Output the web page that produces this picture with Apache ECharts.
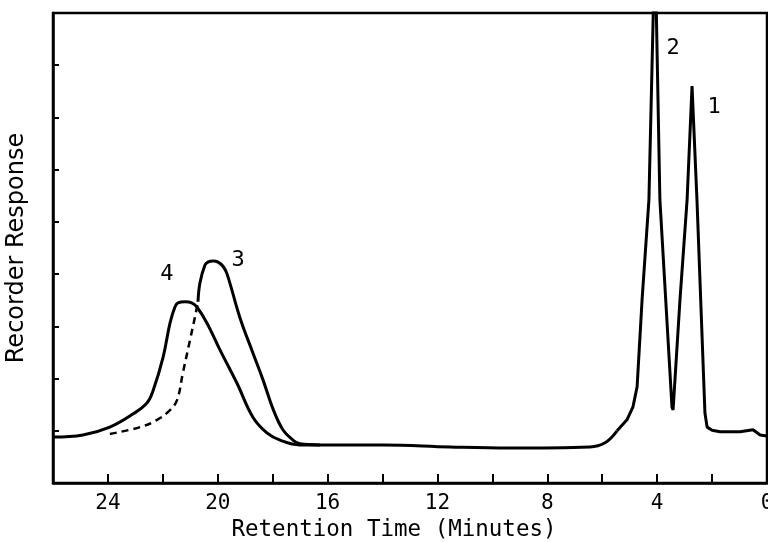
<!DOCTYPE html>
<html>
<head>
<meta charset="utf-8">
<script src="https://cdn.jsdelivr.net/npm/echarts@6/dist/echarts.min.js"></script>
<style>
  html, body { margin: 0; padding: 0; background: #fff; }
  #chart { width: 768px; height: 542px; }
</style>
</head>
<body>
<div id="chart"></div>
<script>
// left part of the trace: peak 4 and the long baseline
var baseT = [26.0, 24.91, 23.93, 23.09, 22.58, 22.36, 21.99, 21.74, 21.56, 21.45, 21.19, 20.95, 20.76, 20.39, 19.92, 19.30, 18.72, 18.21, 17.73, 17.01, 15.19, 13.98, 11.54, 9.36, 6.45, 5.90, 5.46];
var baseV = [-0.12, -0.08, 0.07, 0.32, 0.53, 0.76, 1.41, 2.06, 2.37, 2.45, 2.47, 2.45, 2.37, 2.06, 1.55, 0.91, 0.26, -0.04, -0.18, -0.27, -0.27, -0.27, -0.31, -0.33, -0.31, -0.23, 0.00];

// right part of the trace: peaks 2 and 1
var peaksT = [5.46, 5.10, 4.88, 4.73, 4.55, 4.30, 4.08, 3.90, 3.46, 3.42, 3.17, 2.91, 2.73, 2.55, 2.26, 2.18, 2.00, 1.71, 0.98, 0.51, 0.25, 0];
var peaksV = [0.00, 0.21, 0.46, 0.84, 2.50, 4.42, 9.4, 4.42, 0.45, 0.40, 2.50, 4.42, 6.60, 4.42, 0.34, 0.07, 0.01, -0.02, -0.02, 0.02, -0.08, -0.10];

// peak 3, solid part
var peak3T = [20.72, 20.65, 20.47, 20.36, 20.17, 19.99, 19.81, 19.66, 19.19, 18.72, 18.35, 17.99, 17.63, 17.26, 17.01, 16.28];
var peak3V = [2.47, 2.83, 3.17, 3.23, 3.25, 3.23, 3.15, 3.00, 2.16, 1.49, 0.97, 0.42, 0.02, -0.18, -0.25, -0.27];

// peak 3, dashed leading edge
var dashT = [23.93, 22.83, 22.21, 21.73, 21.48, 21.27, 21.01, 20.83, 20.72];
var dashV = [-0.06, 0.07, 0.21, 0.40, 0.59, 1.11, 1.74, 2.18, 2.47];

// peak numbers
var peakNames = ['1', '2', '3', '4'];
var peakLabelT = [1.93, 3.42, 19.26, 21.85];
var peakLabelV = [6.20, 7.33, 3.27, 3.00];

function pairs(xs, ys) {
    var out = [];
    for (var i = 0; i < xs.length; i++) out.push([xs[i], ys[i]]);
    return out;
}

var mono = 'DejaVu Sans Mono';
var lineStyle = { color: '#000', width: 3 };

var labelPoints = [];
for (var i = 0; i < peakNames.length; i++) {
    labelPoints.push({ name: peakNames[i], coord: [peakLabelT[i], peakLabelV[i]] });
}

var myChart = echarts.init(document.getElementById('chart'));
var option = {
    animation: false,
    backgroundColor: '#fff',
    grid: {
        left: 53, right: 1, top: 13, bottom: 59,
        outerBoundsMode: 'none',
        show: true, borderColor: '#000', borderWidth: 2.5
    },
    xAxis: {
        type: 'value',
        min: 0, max: 26, interval: 2,
        inverse: true,
        name: 'Retention Time (Minutes)',
        nameLocation: 'middle',
        nameGap: 31,
        nameTextStyle: { fontFamily: mono, fontSize: 22.5, color: '#000', padding: [0, 32, 0, 0] },
        axisLine: { onZero: false, lineStyle: { color: '#000', width: 2.5 } },
        axisTick: { inside: true, length: 9, lineStyle: { color: '#000', width: 2 } },
        axisLabel: {
            fontFamily: mono, fontSize: 21, color: '#000', margin: 10,
            formatter: function (v) { return v % 4 === 0 ? String(v) : ''; }
        },
        splitLine: { show: false }
    },
    yAxis: {
        type: 'value',
        position: 'left',
        min: -1, max: 8, interval: 1,
        name: 'Recorder Response',
        nameLocation: 'middle',
        nameGap: 24,
        nameTextStyle: { fontFamily: 'DejaVu Sans', fontSize: 24, color: '#000' },
        axisLine: { onZero: false, lineStyle: { color: '#000', width: 2.5 } },
        axisTick: { inside: true, length: 6, lineStyle: { color: '#000', width: 2 } },
        axisLabel: { show: false },
        splitLine: { show: false }
    },
    series: [
        {
            name: 'trace', type: 'line', showSymbol: false, smooth: 0.4,
            lineStyle: lineStyle, data: pairs(baseT, baseV),
            markPoint: {
                symbol: 'circle', symbolSize: 0,
                label: {
                    show: true, position: 'inside', fontFamily: mono, fontSize: 22, color: '#000',
                    formatter: function (p) { return p.name; }
                },
                data: labelPoints
            }
        },
        {
            name: 'trace peaks', type: 'line', showSymbol: false,
            lineStyle: lineStyle, data: pairs(peaksT, peaksV)
        },
        {
            name: 'peak 3', type: 'line', showSymbol: false, smooth: 0.4,
            lineStyle: lineStyle, data: pairs(peak3T, peak3V)
        },
        {
            name: 'peak 3 leading edge', type: 'line', showSymbol: false, smooth: 0.4,
            lineStyle: { color: '#000', width: 2.5, type: [7, 5] }, data: pairs(dashT, dashV)
        }
    ]
};
myChart.setOption(option);
</script>
</body>
</html>
